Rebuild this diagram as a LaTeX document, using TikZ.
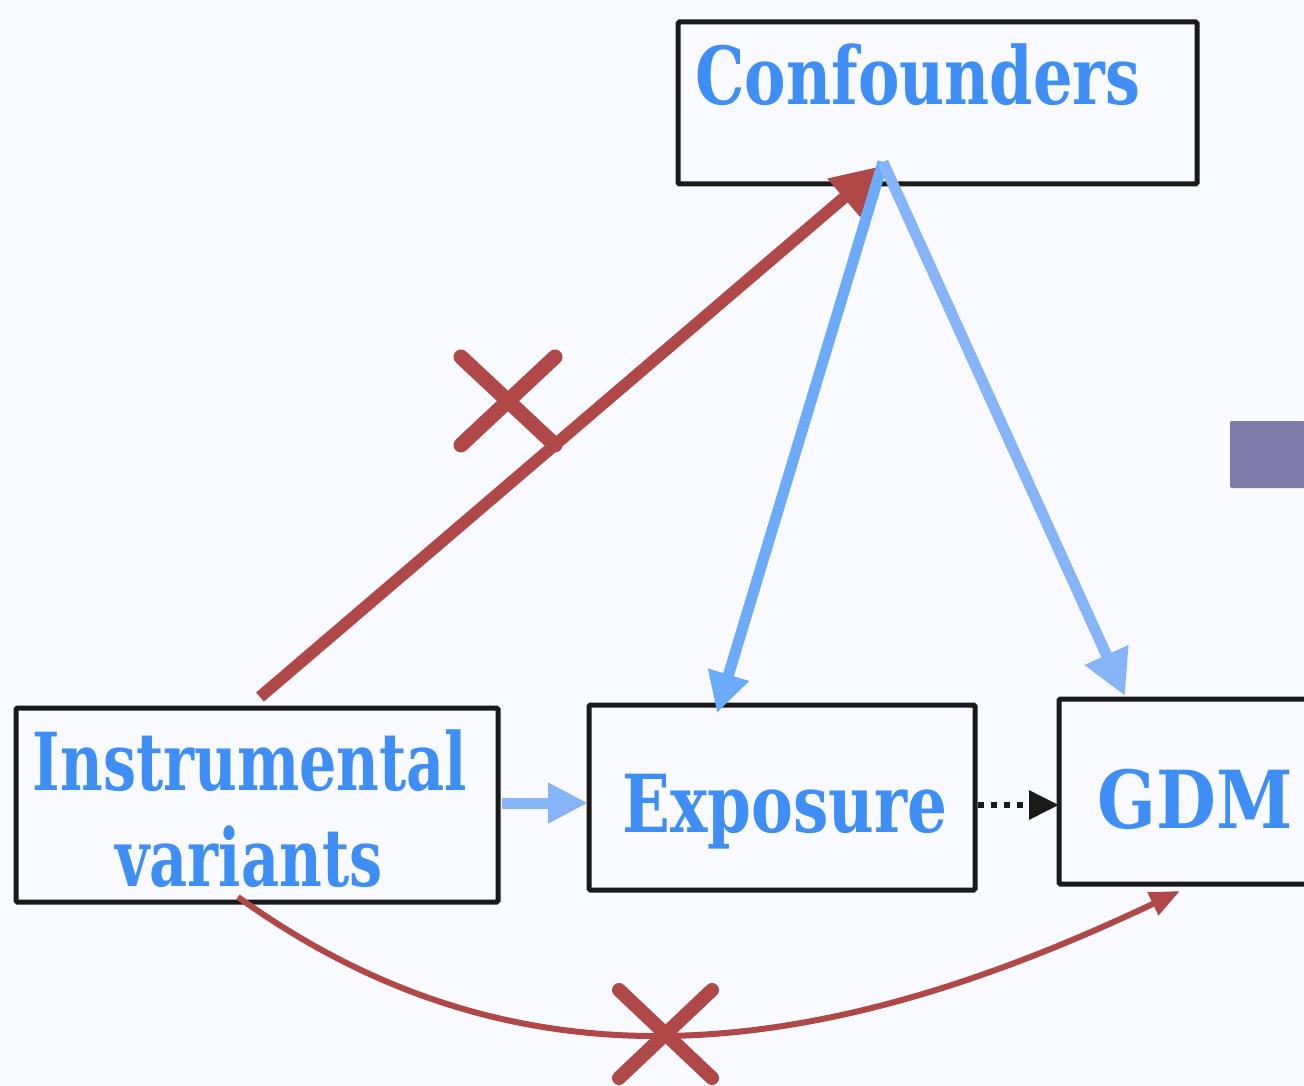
\documentclass[tikz,border=0pt]{standalone}
\usepackage{fontspec}
\setmainfont{DejaVu Serif}[FakeStretch=0.75,UprightFont=* Bold]
\usetikzlibrary{arrows.meta}
\definecolor{bgc}{RGB}{249,250,255}
\definecolor{txtc}{RGB}{62,142,246}
\definecolor{redc}{RGB}{176,72,72}
\definecolor{bluea}{RGB}{108,170,250}
\definecolor{blueb}{RGB}{133,181,248}
\definecolor{purp}{RGB}{126,123,168}
\definecolor{edgec}{RGB}{26,26,26}
\begin{document}
\begin{tikzpicture}[x=1pt,y=-1pt,
  box/.style={draw=edgec,line width=5pt,rounded corners=1.5pt,inner sep=0pt,fill=bgc},
  lbl/.style={text=txtc,inner sep=0pt,anchor=base,font=\fontsize{80}{96}\selectfont},
  crossmark/.style={draw=redc,line width=15pt,line cap=round},
]
\useasboundingbox (0,0) rectangle (1304,1086);
\clip (0,0) rectangle (1304,1086);
\fill[bgc] (0,0) rectangle (1304,1086);
% purple block
\fill[purp,rounded corners=2pt] (1230,421) rectangle (1330,488);
% boxes
\node[box,minimum width=519pt,minimum height=162pt] (conf) at (937.5,103) {};
\node[box,minimum width=482pt,minimum height=194pt] (inst) at (257,805) {};
\node[box,minimum width=386pt,minimum height=185pt] (expo) at (782,797.5) {};
\node[box,minimum width=270pt,minimum height=185pt] (gdm) at (1194,791.5) {};
% labels
\node[lbl] (confT) at (918,105) {\scalebox{1.035}[1]{Confounders}};
\node[lbl] (instT1) at (250,790) {\scalebox{0.98}[1]{Instrumental}};
\node[lbl] (instT2) at (249,886) {\scalebox{0.98}[1]{variants}};
\node[lbl] (expoT) at (785,832) {\scalebox{1.045}[1]{Exposure}};
\node[lbl] (gdmT) at (1195,828) {\scalebox{1.15}[1]{GDM}};
% coordinates
\coordinate (rS) at (260,697);
\coordinate (rE) at (881,166);
\coordinate (bS) at (883,162);
\coordinate (bE1) at (717,713);
\coordinate (bE2) at (1125,696);
\coordinate (iS) at (502,803);
\coordinate (iE) at (588,803);
\coordinate (dS) at (978,805);
\coordinate (dE) at (1059,805);
\coordinate (cS) at (238,897);
\coordinate (cE) at (1180,891);
% red straight arrow
\draw[redc,line width=12pt,-{Triangle[length=49pt,width=47pt]}] (rS) -- (rE);
\draw[crossmark] (461,357) -- (555,445);
\draw[crossmark] (555,357) -- (461,445);
% blue arrows
\draw[bluea,line width=11pt,-{Triangle[length=40pt,width=40pt]}] (bS) -- (bE1);
\draw[blueb,line width=11pt,-{Triangle[length=45pt,width=45pt]}] (bS) -- (bE2);
\draw[blueb,line width=11pt,-{Triangle[length=40pt,width=38pt]}] (iS) -- (iE);
% dotted
\draw[edgec,line width=6pt,dash pattern=on 6pt off 7pt,-{Triangle[length=30pt,width=28pt]}] (dS) -- (dE);
% curve
\draw[redc,line width=6pt,-{Triangle[length=30pt,width=24pt]}] (cS) .. controls (520,1100) and (820,1062) .. (cE);
\draw[crossmark,line width=14pt] (619,990) -- (712,1078);
\draw[crossmark,line width=14pt] (712,990) -- (619,1078);
\end{tikzpicture}
\end{document}
